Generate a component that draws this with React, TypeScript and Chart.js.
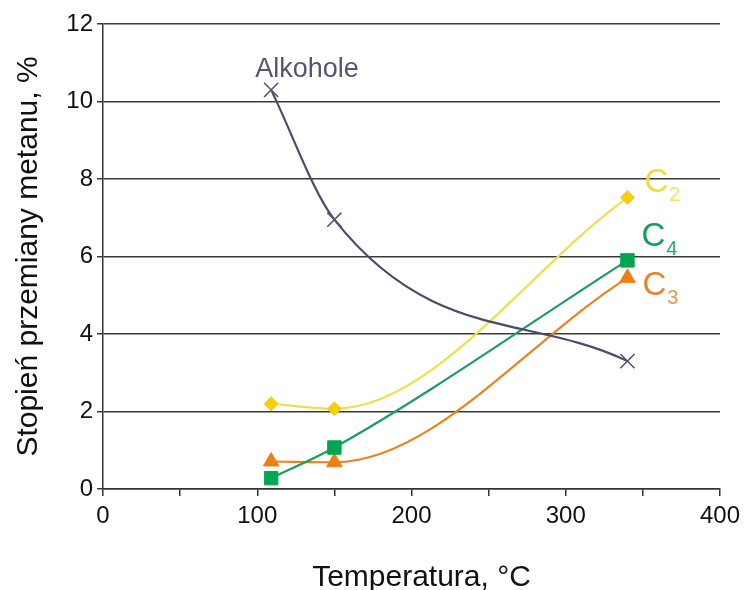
import React, { useEffect, useRef } from 'react';
import { Chart, registerables } from 'chart.js';

Chart.register(...registerables);

// ---- data ----
const temperatures = [109, 150, 340];
const alkohole = [10.3, 6.95, 3.3];
const c2 = [2.2, 2.07, 7.52];
const c4 = [0.28, 1.07, 5.9];
const c3 = [0.71, 0.69, 5.45];
const xTickLabels = [0, 100, 200, 300, 400];
const yTickLabels = [0, 2, 4, 6, 8, 10, 12];
const xTitle = 'Temperatura, °C';
const yTitle = 'Stopień przemiany metanu, %';

const FONT = "'Liberation Sans', Arial, Helvetica, sans-serif";

const toPoints = (ys: number[]) => temperatures.map((x, i) => ({ x, y: ys[i] }));

const labelPlugin = {
  id: 'seriesLabels',
  afterDatasetsDraw(chart: any) {
    const { ctx, scales, chartArea } = chart;
    const xs = scales.x;
    const ys = scales.y;
    ctx.save();
    ctx.textBaseline = 'alphabetic';
    ctx.textAlign = 'left';

    // Alkohole label near first point
    const ax = xs.getPixelForValue(temperatures[0]);
    const ay = ys.getPixelForValue(alkohole[0]);
    ctx.font = `27px ${FONT}`;
    ctx.fillStyle = '#55556f';
    ctx.fillText('Alkohole', ax - 16, ay - 13);

    const last = temperatures.length - 1;
    const drawC = (sub: string, vals: number[], dx: number, dy: number, col: string, subCol: string) => {
      const px = xs.getPixelForValue(temperatures[last]);
      const py = ys.getPixelForValue(vals[last]);
      ctx.font = `33px ${FONT}`;
      ctx.fillStyle = col;
      const x0 = px + dx;
      const y0 = py + dy;
      ctx.fillText('C', x0, y0);
      const w = ctx.measureText('C').width;
      ctx.font = `20px ${FONT}`;
      ctx.fillStyle = subCol;
      ctx.fillText(sub, x0 + w + 1, y0 + 9);
    };
    drawC('2', c2, 17, -6, '#F0DC3E', '#F2E06A');
    drawC('4', c4, 14, -14, '#169E5C', '#2AA86A');
    drawC('3', c3, 15, 17, '#E3862A', '#E69848');

    // x-axis title
    ctx.font = `30px ${FONT}`;
    ctx.fillStyle = '#111';
    ctx.textAlign = 'center';
    ctx.fillText(xTitle, (chartArea.left + chartArea.right) / 2 + 10, chart.height - 4);
    ctx.restore();
  },
};

export default function App() {
  const canvasRef = useRef<HTMLCanvasElement | null>(null);

  useEffect(() => {
    document.body.style.margin = '0';
    const canvas = canvasRef.current;
    if (!canvas) return;
    const chart = new Chart(canvas, {
      type: 'line',
      data: {
        datasets: [
          {
            label: 'Alkohole',
            data: toPoints(alkohole),
            showLine: true,
            cubicInterpolationMode: 'monotone',
            borderColor: '#4b4b68',
            borderWidth: 2.2,
            pointStyle: 'crossRot',
            pointRadius: 10,
            pointBorderColor: '#55556e',
            pointBorderWidth: 1.6,
            pointBackgroundColor: '#55556e',
          },
          {
            label: 'C2',
            data: toPoints(c2),
            showLine: true,
            cubicInterpolationMode: 'monotone',
            borderColor: '#EEE04A',
            borderWidth: 2.2,
            pointStyle: 'rectRot',
            pointRadius: 7,
            pointBorderColor: '#F7CF00',
            pointBorderWidth: 1,
            pointBackgroundColor: '#F7CF00',
          },
          {
            label: 'C4',
            data: toPoints(c4),
            showLine: true,
            cubicInterpolationMode: 'monotone',
            borderColor: '#1B9E5E',
            borderWidth: 2.2,
            pointStyle: 'rect',
            pointRadius: 9.5,
            pointBorderColor: '#00A651',
            pointBorderWidth: 1,
            pointBackgroundColor: '#00A651',
          },
          {
            label: 'C3',
            data: toPoints(c3),
            showLine: true,
            cubicInterpolationMode: 'monotone',
            borderColor: '#E8841F',
            borderWidth: 2.2,
            pointStyle: 'triangle',
            pointRadius: 9,
            pointBorderColor: '#EE7F12',
            pointBorderWidth: 1,
            pointBackgroundColor: '#EE7F12',
          },
        ],
      },
      options: {
        responsive: false,
        animation: false,
        devicePixelRatio: 1,
        layout: { padding: { top: 24, right: 27, left: 0, bottom: 0 } },
        plugins: {
          legend: { display: false },
          tooltip: { enabled: false },
        },
        scales: {
          x: {
            type: 'linear',
            min: xTickLabels[0],
            max: xTickLabels[xTickLabels.length - 1],
            ticks: {
              stepSize: 50,
              autoSkip: false,
              maxRotation: 0,
              padding: 6,
              color: '#111',
              font: { family: FONT, size: 24 },
              callback: (v: any) => (xTickLabels.includes(Number(v)) ? String(v) : ''),
            },
            grid: {
              drawOnChartArea: false,
              drawTicks: true,
              tickLength: 7,
              color: '#333',
              lineWidth: 1.5,
            },
            border: { display: true, color: '#333', width: 1.5 },
            title: { display: false, text: xTitle },
            afterFit: (s: any) => {
              s.height = 101;
            },
          },
          y: {
            type: 'linear',
            min: yTickLabels[0],
            max: yTickLabels[yTickLabels.length - 1],
            ticks: {
              stepSize: 2,
              padding: 4,
              color: '#111',
              font: { family: FONT, size: 24 },
            },
            grid: {
              drawOnChartArea: true,
              drawTicks: true,
              tickLength: 6,
              color: '#3a3a3a',
              lineWidth: 1.5,
            },
            border: { display: true, color: '#333', width: 1.5 },
            title: {
              display: true,
              text: yTitle,
              color: '#111',
              font: { family: FONT, size: 30, lineHeight: 1 },
              padding: { top: 14, bottom: 0 },
            },
            afterFit: (s: any) => {
              s.width = 103;
            },
          },
        },
      },
      plugins: [labelPlugin],
    } as any);
    return () => chart.destroy();
  }, []);

  return (
    <div style={{ width: 747, height: 590, background: '#fff' }}>
      <canvas ref={canvasRef} width={747} height={590} style={{ display: 'block' }} />
    </div>
  );
}
